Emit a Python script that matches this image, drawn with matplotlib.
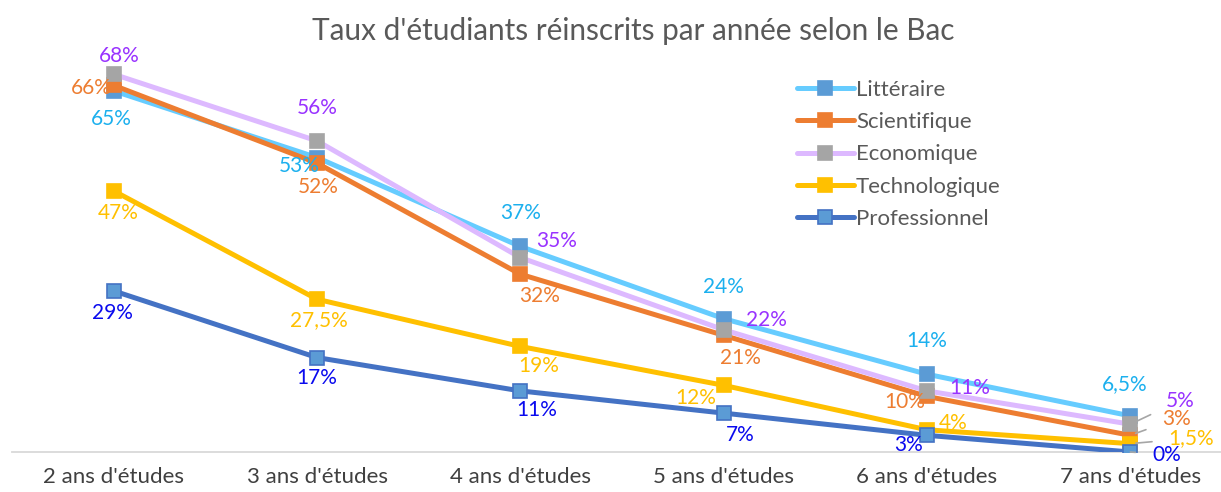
import matplotlib.pyplot as plt

plt.rcParams['font.family'] = ['Lato', 'DejaVu Sans']

# Données : taux de réinscription (%) par année d'études et par bac
annees = ["2 ans d'études", "3 ans d'études", "4 ans d'études",
          "5 ans d'études", "6 ans d'études", "7 ans d'études"]
litteraire = [65, 53, 37, 24, 14, 6.5]
scientifique = [66, 52, 32, 21, 10, 3]
economique = [68, 56, 35, 22, 11, 5]
technologique = [47, 27.5, 19, 12, 4, 1.5]
professionnel = [29, 17, 11, 7, 3, 0]

# (nom, valeurs, couleur ligne, couleur marqueur, bord marqueur, couleur étiquettes)
series = [
    ('Littéraire', litteraire, '#66CCFF', '#5B9BD5', '#5B9BD5', '#1CB0EE'),
    ('Scientifique', scientifique, '#ED7D31', '#ED7D31', '#ED7D31', '#ED7D31'),
    ('Economique', economique, '#DDB9FF', '#A5A5A5', '#A5A5A5', '#9933FF'),
    ('Technologique', technologique, '#FFC000', '#FFC000', '#FFC000', '#FFC000'),
    ('Professionnel', professionnel, '#4472C4', '#5B9BD5', '#4472C4', '#0A0AEE'),
]

# décalages des étiquettes (points), 1 = trait de rappel
offsets = {
    'Littéraire': [(-2, -20, 0), (-13, -6, 0), (0, 24, 0), (0, 23, 0), (0, 24, 0), (-4, 23, 0)],
    'Scientifique': [(-16, -2, 0), (1, -17, 0), (14, -16, 0), (12, -16, 0), (-16, -4, 0), (33, 12, 1)],
    'Economique': [(4, 13, 0), (0, 24, 0), (26, 12, 0), (31, 7, 0), (31, 2, 1), (36, 17, 1)],
    'Technologique': [(3, -16, 0), (1, -15, 0), (13, -14, 0), (-20, -9, 0), (19, 5, 0), (44, 4, 1)],
    'Professionnel': [(-1, -16, 0), (0, -15, 0), (12, -14, 0), (12, -16, 0), (-13, -7, 0), (26, -2, 1)],
}

def fmt(v):
    s = ('%g' % v).replace('.', ',')
    return s + '%'

fig = plt.figure(figsize=(12.21, 4.92), dpi=100)
ax = fig.add_axes([12 / 1221, 1 - 452 / 492, 1220 / 1221, 400 / 492])

x = list(range(len(annees)))
for z, (nom, vals, lc, mc, me, tc) in enumerate(series):
    ax.plot(x, vals, color=lc, lw=3.6, marker='s', markersize=10,
            markerfacecolor=mc, markeredgecolor=me, markeredgewidth=1.2,
            label=nom, zorder=3 + z, solid_capstyle='round')
    for i, v in enumerate(vals):
        dx, dy, lead = offsets[nom][i]
        props = None
        if lead:
            props = dict(arrowstyle='-', color='#A6A6A6', lw=1.2,
                         shrinkA=10, shrinkB=4)
        ax.annotate(fmt(v), (i, v), xytext=(dx, dy), textcoords='offset points',
                    ha='center', va='center', fontsize=15, color=tc,
                    arrowprops=props, zorder=10)

ax.set_xlim(-0.5, 5.5)
ax.set_ylim(0, 72)
ax.set_xticks(x)
ax.set_xticklabels(annees, fontsize=16, color='#404040')
ax.tick_params(axis='x', length=0, pad=11)
ax.set_yticks([])
for s in ['top', 'right', 'left']:
    ax.spines[s].set_visible(False)
ax.spines['bottom'].set_color('#D9D9D9')
ax.spines['bottom'].set_linewidth(1.3)

fig.text(0.519, 0.937, "Taux d'étudiants réinscrits par année selon le Bac",
         ha='center', va='center', fontsize=21.4, color='#595959')

fig.legend(loc='upper left', bbox_to_anchor=(777 / 1221, 1 - 60 / 492),
           frameon=False, fontsize=16, handlelength=2.55, handletextpad=0.1,
           labelspacing=0.55, labelcolor='#595959')

fig.savefig('out.png', dpi=100)
